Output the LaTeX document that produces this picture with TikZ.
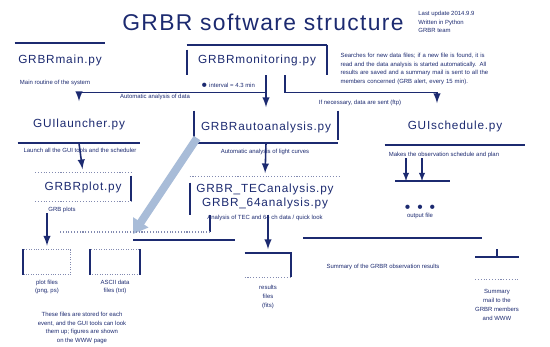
\documentclass[tikz,border=0pt]{standalone}
\usepackage{fontspec}
\setmainfont{Liberation Sans}
\usetikzlibrary{arrows.meta}
\definecolor{ink}{RGB}{28,42,112}
\definecolor{fatblue}{RGB}{168,188,216}

\begin{document}
\begin{tikzpicture}
        [
            x = 0.02cm, y = -0.02cm,
            every node/.style = {text = ink, inner sep = 0pt},
            title/.style = {font = {\fontsize{13}{15}\selectfont\addfontfeatures{LetterSpace = 6}}},
            file/.style = {font = {\fontsize{6.7}{8}\selectfont\addfontfeatures{LetterSpace = 7}}, align = center},
            tiny/.style = {font = \fontsize{3.4}{5}\selectfont, align = center},
            store/.style = {draw = ink!55, densely dotted, minimum height = 0.5cm},
            rule/.style = {draw = ink, line width = 1pt},
            dotrule/.style = {draw = ink!55, densely dotted, line width = 0.6pt},
            link/.style = {draw = ink, line width = 0.9pt, -latex, shorten > = 2pt},
            fat/.style = {draw = fatblue, line width = 4.5pt, -{Triangle[length = 8pt, width = 10pt]}}
        ]

        \useasboundingbox (0,0) rectangle (550,346);

        \node[title] (head) at (263,22) {GRBR software structure};
        \node[tiny, align = left, anchor = west] (headnote) at (418,22) {Last update 2014.9.9\\Written in Python\\GRBR team};

        \node[file, minimum width = 1.8cm, minimum height = 0.68cm] (main) at (60,60) {GRBRmain.py};
        \node[tiny] (maininfo) at (55,83) {Main routine of the system};
        \node[file, minimum width = 2.8cm, minimum height = 0.6cm] (mon) at (257,60) {GRBRmonitoring.py};
        \node[tiny] (moninfo) at (228,85) {$\bullet$ interval = 4.3 min};
        \node[tiny, align = left, text width = 3.5cm] (monnote) at (428,69)
            {Searches for new data files; if a new file is found, it is\\
             read and the data analysis is started automatically. All\\
             results are saved and a summary mail is sent to all the\\
             members concerned (GRB alert, every 15 min).};

        \node[file, minimum width = 2.44cm, minimum height = 0.76cm] (launcher) at (79,124) {GUIlauncher.py};
        \node[tiny] (launcherinfo) at (80,150) {Launch all the GUI tools and the scheduler};
        \node[file, minimum width = 2.86cm, minimum height = 0.64cm] (auto) at (266,127) {GRBRautoanalysis.py};
        \node[tiny] (autoinfo) at (265,152) {Automatic analysis of light curves};
        \node[file, minimum width = 2.8cm, minimum height = 0.76cm] (sched) at (455,126) {GUIschedule.py};
        \node[tiny] (schedinfo) at (444,155) {Makes the observation schedule and plan};

        \node[tiny] (linkinfo) at (155,97) {Automatic analysis of data};
        \node[tiny] (schedlink) at (360,103) {If necessary, data are sent (ftp)};

        \node[file, minimum width = 1.9cm, minimum height = 0.56cm] (plot) at (83,187) {GRBRplot.py};
        \node[tiny] (plotinfo) at (62,210) {GRB plots};
        \node[file, minimum width = 3cm, minimum height = 0.76cm] (tec) at (265,196) {GRBR\_TECanalysis.py\\GRBR\_64analysis.py};
        \node[tiny] (tecinfo) at (265,218) {Analysis of TEC and 64 ch data / quick look};

        \node[store, minimum width = 0.94cm] (plotfiles) at (47,262) {};
        \node[tiny] (plotfilesinfo) at (47,287) {plot files\\(png, ps)};
        \node[store, minimum width = 1cm] (datafiles) at (115,262) {};
        \node[tiny] (datafilesinfo) at (115,287) {ASCII data\\files (txt)};
        \node[tiny] (storenote) at (82,328) {These files are stored for each\\event, and the GUI tools can look\\them up; figures are shown\\on the WWW page};

        \node[minimum width = 0.92cm, minimum height = 0.48cm] (results) at (268,265) {};
        \node[tiny] (resultsinfo) at (268,297) {results\\files\\(fits)};
        \node[tiny] (summary) at (383,267) {Summary of the GRBR observation results};
        \node[minimum width = 0.86cm, minimum height = 0.44cm] (mail) at (497,268) {};
        \node[tiny] (mailinfo) at (497,305) {Summary\\mail to the\\GRBR members\\and WWW};

        \node[tiny] (schedout) at (420,212) {$\bullet$\quad$\bullet$\quad$\bullet$\\output file};

        \coordinate (schin) at (437,0);
        \coordinate (schedbar) at (395,181);
        \coordinate (fatfrom) at (197,138);
        \coordinate (fatto) at (133,234);
        \coordinate (tecleft) at (210,232);

        % boxes
        \draw[rule] (main.north west) -- (main.north east);
        \draw[rule] (mon.north west) -- (mon.north east);
        \draw[rule] ([yshift = -0.1cm]mon.north west) -- (mon.south west);
        \draw[rule] (mon.north east) -- (mon.south east);
        \draw[rule] (launcher.south west) -- (launcher.south east);
        \draw[rule] (auto.north west) -- (auto.south west) -- (auto.south east);
        \draw[rule] (auto.north east) -- ([yshift = 0.06cm]auto.south east);
        \draw[rule] (sched.south west) -- (sched.south east);
        \draw[dotrule] (plot.north west) -- (plot.north east);
        \draw[dotrule] (plot.south west) -- (plot.south east);
        \draw[rule] ([yshift = -0.06cm]plot.north east) -- (plot.south east);
        \draw[dotrule] (tec.north west) -- (tec.north east);
        \draw[rule] ([yshift = -0.12cm]tec.north west) -- (tec.south west);
        \draw[rule] (plotfiles.north west) -- (plotfiles.south west);
        \draw[rule] (datafiles.north west) -- (datafiles.south west);
        \draw[rule] (datafiles.north east) -- (datafiles.south east);
        \draw[rule] (results.north west) -- (results.north east) -- (results.south east);
        \draw[dotrule] (results.south west) -- (results.south east);
        \draw[rule] (mail.north west) -- (mail.north east);
        \draw[dotrule] (mail.south west) -- (mail.south east);

        % connectors
        \draw[link] (auto.north |- mon.south) -- (auto.north);
        \draw[link] (auto.north |- mon.south) ++(0,17) -| (launcher.north);
        \draw[link] ([xshift = 0.56cm]mon.south) -- ++(0,17) -| (sched.north -| schin);
        \draw[link] (launcher.south) -- (plot.north);
        \draw[link] (auto.south) -- (tec.north);
        \draw[link] (results.north |- tec.south) -- (results.north);
        \draw[link] (plotfiles.north |- plotinfo.south) -- (plotfiles.north);
        \draw[rule, line width = 0.7pt] (schedbar) -- ++(55,0);
        \draw[link, line width = 0.6pt, shorten > = 0pt] ([xshift = 0.22cm]schedbar |- schedinfo.south) -- ([xshift = 0.22cm]schedbar);
        \draw[link, line width = 0.6pt, shorten > = 0pt] ([xshift = 0.54cm]schedbar |- schedinfo.south) -- ([xshift = 0.54cm]schedbar);
        \draw[fat] (fatfrom) -- (fatto);
        \draw[draw = ink, line width = 0.7pt] (tecleft |- tec.south) -- (tecleft);
        \draw[dotrule] (tecleft) -- (60,232);
        \draw[rule] (fatto |- 0,240) -- (235,240);
        \draw[rule, line width = 0.8pt] (303,238) -- (482,238);
        \draw[draw = ink, line width = 0.8pt] (mail.north |- 0,249) -- (mail.north |- 0,256);
\end{tikzpicture}
\end{document}
